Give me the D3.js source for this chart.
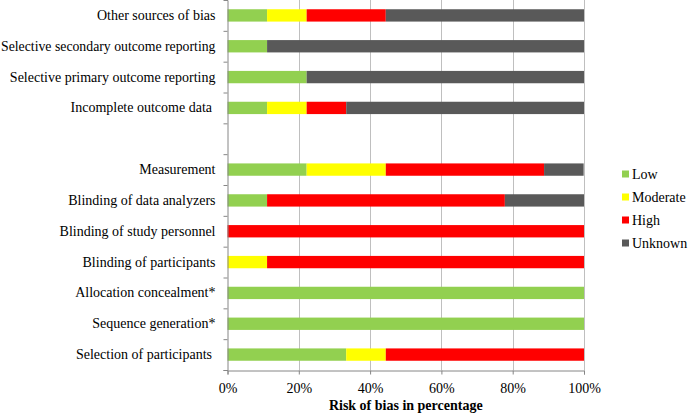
<!DOCTYPE html>
<html><head><meta charset="utf-8">
<script src="https://cdn.jsdelivr.net/npm/d3@7"></script>
<style>html,body{margin:0;padding:0;background:#fff;}</style>
</head><body><svg id="c" width="688" height="414"></svg>
<script>
// Categories from top to bottom ("" = empty spacer row)
const categories = ["Other sources of bias","Selective secondary outcome reporting","Selective primary outcome reporting","Incomplete outcome data ","","Measurement","Blinding of data analyzers","Blinding of study personnel","Blinding of participants","Allocation concealment*","Sequence generation*","Selection of participants "];
const seriesNames = ["Low","Moderate","High","Unknown"];
const low      = [11.1, 11.1, 22.2, 11.1, 0, 22.2, 11.1, 0,   0,    100, 100, 33.3];
const moderate = [11.1, 0,    0,    11.1, 0, 22.2, 0,    0,   11.1, 0,   0,   11.1];
const high     = [22.2, 0,    0,    11.1, 0, 44.4, 66.7, 100, 88.9, 0,   0,   55.6];
const unknown  = [55.6, 88.9, 77.8, 66.7, 0, 11.1, 22.2, 0,   0,    0,   0,   0];
const xTicks = [0, 20, 40, 60, 80, 100];
const xTitle = "Risk of bias in percentage";
const colors = ["#92D050","#FFFF00","#FF0000","#595959"];
const FONT = "Liberation Serif";

const svg = d3.select("#c");
const m = {left:227.5, right:584, top:0, bottom:370};
const x = d3.scaleLinear().domain([0,100]).range([m.left, m.right]);
const y = d3.scaleBand().domain(d3.range(categories.length)).range([m.top, m.bottom]).paddingInner(0.6).paddingOuter(0.3);
const yb = d3.scaleBand().domain(d3.range(categories.length)).range([m.top, m.bottom]);

// gridlines
svg.append("g").selectAll("line").data(xTicks.slice(1)).join("line")
  .attr("x1", d=>Math.round(x(d))+0.5).attr("x2", d=>Math.round(x(d))+0.5)
  .attr("y1", m.top).attr("y2", m.bottom).attr("stroke","#BFBFBF").attr("stroke-width",1);

// stacked bars
const rows = categories.map((c,i)=>({i, Low:low[i], Moderate:moderate[i], High:high[i], Unknown:unknown[i]}));
const stack = d3.stack().keys(seriesNames)(rows);
svg.append("g").selectAll("g").data(stack).join("g").attr("fill",(d,k)=>colors[k])
  .selectAll("rect").data(d=>d.filter(p=>p[1]-p[0]>0)).join("rect")
  .attr("x", d=>x(d[0])).attr("width", d=>x(d[1])-x(d[0]))
  .attr("y", d=>y(d.data.i)).attr("height", y.bandwidth());

// y axis
const yAxis = d3.axisLeft(d3.scaleLinear().domain([0,categories.length]).range([m.top,m.bottom]))
  .tickValues(d3.range(1,categories.length+1)).tickSize(4).tickFormat("");
const ga = svg.append("g").attr("transform",`translate(${m.left},0)`).call(yAxis);
ga.select(".domain").attr("stroke","#868686");
ga.selectAll(".tick line").attr("stroke","#868686");

// category labels
const labelRight = m.left-12;
svg.append("g").selectAll("text").data(categories).join("text")
  .attr("x", labelRight).attr("y", (d,i)=>yb(i)+yb.bandwidth()/2+4.5)
  .attr("text-anchor","end").attr("font-size",14).attr("font-family",FONT).attr("fill","#000")
  .attr("xml:space","preserve").text(d=>d)
  .each(function(){
    const w = this.getComputedTextLength();
    if (w > labelRight - 1) {
      d3.select(this).attr("textLength", labelRight - 1).attr("lengthAdjust","spacingAndGlyphs");
    }
  });

// x axis
const xAxis = d3.axisBottom(x).tickValues(xTicks).tickSize(4).tickFormat(d=>d+"%").tickPadding(9);
const gx = svg.append("g").attr("transform",`translate(0,${m.bottom+0.5})`).call(xAxis);
gx.attr("font-family",FONT).attr("font-size",14);
gx.select(".domain").attr("stroke","#868686");
gx.selectAll(".tick line").attr("stroke","#868686");
gx.selectAll("text").attr("fill","#000");

svg.append("text").attr("x",(m.left+m.right)/2).attr("y",410).attr("text-anchor","middle")
  .attr("font-size",14).attr("font-weight","bold").attr("font-family",FONT).text(xTitle);

// legend
const lg = svg.append("g").selectAll("g").data(seriesNames).join("g")
  .attr("transform",(d,i)=>`translate(622,${174+i*23})`);
lg.append("rect").attr("x",0).attr("y",-3.5).attr("width",7).attr("height",7).attr("fill",(d,i)=>colors[i]);
lg.append("text").attr("x",10).attr("y",4.5).attr("font-size",14).attr("font-family",FONT).text(d=>d);
</script></body></html>
